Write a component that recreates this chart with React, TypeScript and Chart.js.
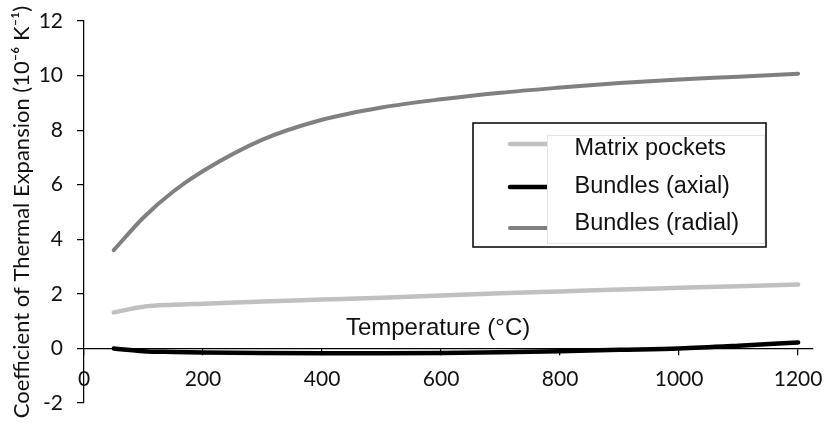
import React, { useEffect, useRef } from "react";
import { Chart, registerables } from "chart.js";

Chart.register(...registerables);

// ---- data ----
const temperatures = [50, 100, 150, 200, 300, 400, 500, 600, 700, 800, 900, 1000, 1100, 1200];
const matrixPockets = [1.32, 1.53, 1.6, 1.64, 1.72, 1.79, 1.86, 1.94, 2.02, 2.09, 2.16, 2.22, 2.28, 2.34];
const bundlesAxial = [0.0, -0.1, -0.13, -0.15, -0.17, -0.18, -0.18, -0.17, -0.14, -0.1, -0.05, 0.0, 0.1, 0.22];
const bundlesRadial = [3.6, 4.8, 5.75, 6.5, 7.65, 8.38, 8.83, 9.13, 9.37, 9.56, 9.73, 9.86, 9.96, 10.07];

const seriesNames = ["Matrix pockets", "Bundles (axial)", "Bundles (radial)"];
const xTickValues = [0, 200, 400, 600, 800, 1000, 1200];
const yTickValues = [-2, 0, 2, 4, 6, 8, 10, 12];
const xTitle = "Temperature (\u00B0C)";
const yTitle = "Coefficient of Thermal Expansion (10\u207B\u2076 K\u207B\u00B9)";

const toPoints = (ys: number[]) => ys.map((y, i) => ({ x: temperatures[i], y }));

const TICK_FONT = "Lato";
const TEXT_FONT = "'Liberation Sans', Arial, sans-serif";

const textPlugin = {
  id: "customText",
  afterDraw(chart: any) {
    const { ctx, chartArea, scales } = chart;
    const xs = scales.x;
    const ys = scales.y;
    ctx.save();
    // x-axis title (sits inside the plot area, above the axis line)
    ctx.fillStyle = "#111";
    ctx.font = `24px ${TEXT_FONT}`;
    ctx.textAlign = "center";
    ctx.textBaseline = "alphabetic";
    ctx.fillText(xTitle, xs.getPixelForValue(595), ys.getPixelForValue(0.51));

    // y-axis title
    ctx.save();
    ctx.translate(22, (chartArea.top + chartArea.bottom) / 2);
    ctx.rotate(-Math.PI / 2);
    ctx.font = `22px ${TICK_FONT}`;
    ctx.textAlign = "center";
    ctx.textBaseline = "middle";
    ctx.fillStyle = "#111";
    ctx.fillText(yTitle, 0, 0);
    ctx.restore();

    // legend
    const bx = 473, by = 123, bw = 293, bh = 124;
    ctx.fillStyle = "#fff";
    ctx.fillRect(bx, by, bw, bh);
    ctx.strokeStyle = "#000";
    ctx.lineWidth = 1.5;
    ctx.strokeRect(bx, by, bw, bh);
    const sampleYs = [144, 187, 228];
    chart.data.datasets.forEach((ds: any, i: number) => {
      ctx.beginPath();
      ctx.strokeStyle = ds.borderColor;
      ctx.lineWidth = ds.borderWidth;
      ctx.lineCap = "round";
      ctx.moveTo(510, sampleYs[i]);
      ctx.lineTo(560, sampleYs[i]);
      ctx.stroke();
    });
    ctx.fillStyle = "#fff";
    ctx.fillRect(547, 135.5, 218, 108);
    ctx.strokeStyle = "#e4e4e4";
    ctx.lineWidth = 1;
    ctx.strokeRect(547.5, 135.5, 217, 108);
    ctx.fillStyle = "#111";
    ctx.font = `23.5px ${TEXT_FONT}`;
    ctx.textAlign = "left";
    ctx.textBaseline = "alphabetic";
    const baselines = [154.5, 192.5, 229.5];
    chart.data.datasets.forEach((ds: any, i: number) => {
      ctx.fillText(ds.label, 574.5, baselines[i]);
    });
    ctx.restore();
  },
};

export default function App() {
  const ref = useRef<HTMLCanvasElement | null>(null);
  useEffect(() => {
    if (!ref.current) return;
    const chart = new Chart(ref.current, {
      type: "line",
      data: {
        datasets: [
          {
            label: seriesNames[0],
            data: toPoints(matrixPockets),
            borderColor: "#c0c0c0",
            borderWidth: 4.5,
            pointRadius: 0,
            cubicInterpolationMode: "monotone",
            borderCapStyle: "round",
          },
          {
            label: seriesNames[1],
            data: toPoints(bundlesAxial),
            borderColor: "#000000",
            borderWidth: 4.5,
            pointRadius: 0,
            cubicInterpolationMode: "monotone",
            borderCapStyle: "round",
          },
          {
            label: seriesNames[2],
            data: toPoints(bundlesRadial),
            borderColor: "#808080",
            borderWidth: 4,
            pointRadius: 0,
            cubicInterpolationMode: "monotone",
            borderCapStyle: "round",
          },
        ],
      },
      options: {
        animation: false,
        responsive: false,
        maintainAspectRatio: false,
        layout: { padding: { left: 0, right: 12, top: 21, bottom: 23 } },
        plugins: {
          legend: { display: false },
          tooltip: { enabled: false },
        },
        scales: {
          x: {
            type: "linear",
            position: { y: 0 } as any,
            min: 0,
            max: 1225,
            afterBuildTicks: (scale: any) => {
              scale.ticks = xTickValues.map((v) => ({ value: v }));
            },
            afterFit: (scale: any) => {
              scale.paddingLeft = 0;
              scale.paddingRight = 0;
              scale.paddingTop = 0;
              scale.paddingBottom = 0;
            },
            grid: { display: true, drawOnChartArea: false, drawTicks: true, tickLength: 6, color: "#000", lineWidth: 1.25 },
            border: { display: true, color: "#000", width: 1.25 },
            ticks: {
              padding: 12,
              color: "#111",
              font: { family: TICK_FONT, size: 21 },
              maxRotation: 0,
              autoSkip: false,
              callback: (v: any) => String(v),
            },
          },
          y: {
            type: "linear",
            position: "left",
            min: -2,
            max: 12,
            afterBuildTicks: (scale: any) => {
              scale.ticks = yTickValues.map((v) => ({ value: v }));
            },
            afterFit: (scale: any) => {
              scale.width = 84;
              scale.paddingLeft = 0;
              scale.paddingRight = 0;
              scale.paddingTop = 0;
              scale.paddingBottom = 0;
            },
            grid: { display: true, drawOnChartArea: false, drawTicks: true, tickLength: 7, color: "#000", lineWidth: 1.25 },
            border: { display: true, color: "#000", width: 1.25 },
            ticks: {
              padding: 14,
              color: "#111",
              font: { family: TICK_FONT, size: 21 },
              autoSkip: false,
              callback: (v: any) => String(v),
            },
          },
        },
      },
      plugins: [textPlugin],
    });
    return () => chart.destroy();
  }, []);
  return (
    <div style={{ position: "absolute", left: 0, top: 0, width: 825, height: 426, background: "#fff" }}>
      <canvas ref={ref} width={825} height={426} />
    </div>
  );
}
